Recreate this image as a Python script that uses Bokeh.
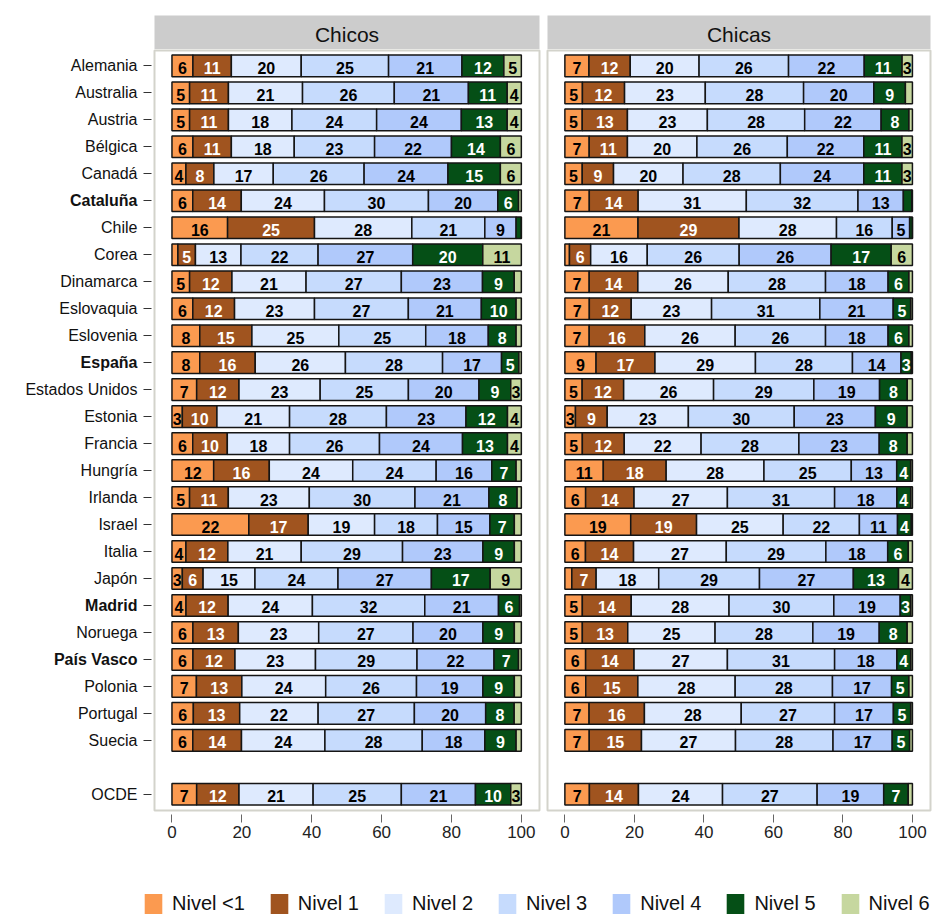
import numpy as np
from bokeh.plotting import figure
from bokeh.models import (ColumnDataSource, Range1d, FixedTicker, Label,
                          Legend, LegendItem)
from bokeh.layouts import column, row
from bokeh.embed import file_html
from bokeh.resources import INLINE
from bokeh.core.properties import value

countries = ["Alemania", "Australia", "Austria", "Bélgica", "Canadá", "Cataluña", "Chile",
             "Corea", "Dinamarca", "Eslovaquia", "Eslovenia", "España", "Estados Unidos",
             "Estonia", "Francia", "Hungría", "Irlanda", "Israel", "Italia", "Japón",
             "Madrid", "Noruega", "País Vasco", "Polonia", "Portugal", "Suecia", "OCDE"]
bold_rows = ["Cataluña", "España", "Madrid", "País Vasco"]
levels = ["Nivel <1", "Nivel 1", "Nivel 2", "Nivel 3", "Nivel 4", "Nivel 5", "Nivel 6"]
panels = ["Chicos", "Chicas"]
x_ticks = [0, 20, 40, 60, 80, 100]

# Chicos (percent of students per level)
chicos_n0 = [6, 5, 5, 6, 4, 6, 16, 1.7, 5, 6, 8, 8, 7, 3, 6, 12, 5, 22, 4, 3, 4, 6, 6, 7, 6, 6, 7]
chicos_n1 = [11, 11, 11, 11, 8, 14, 25, 5, 12, 12, 15, 16, 12, 10, 10, 16, 11, 17, 12, 6, 12, 13, 12, 13, 13, 14, 12]
chicos_n2 = [20, 21, 18, 18, 17, 24, 28, 13, 21, 23, 25, 26, 23, 21, 18, 24, 23, 19, 21, 15, 24, 23, 23, 24, 22, 24, 21]
chicos_n3 = [25, 26, 24, 23, 26, 30, 21, 22, 27, 27, 25, 28, 25, 28, 26, 24, 30, 18, 29, 24, 32, 27, 29, 26, 27, 28, 25]
chicos_n4 = [21, 21, 24, 22, 24, 20, 9, 27, 23, 21, 18, 17, 20, 23, 24, 16, 21, 15, 23, 27, 21, 20, 22, 19, 20, 18, 21]
chicos_n5 = [12, 11, 13, 14, 15, 6, 1.5, 20, 9, 10, 8, 5, 9, 12, 13, 7, 8, 7, 9, 17, 6, 9, 7, 9, 8, 9, 10]
chicos_n6 = [5, 4, 4, 6, 6, 0.8, 0, 11, 2, 1.5, 1.5, 0.7, 3, 4, 4, 1.5, 1.2, 2, 2, 9, 0.5, 2, 0.8, 2, 2, 1.5, 3]

# Chicas
chicas_n0 = [7, 5, 5, 7, 5, 7, 21, 1.3, 7, 7, 7, 9, 5, 3, 5, 11, 6, 19, 6, 2, 5, 5, 6, 6, 7, 7, 7]
chicas_n1 = [12, 12, 13, 11, 9, 14, 29, 6, 14, 12, 16, 17, 12, 9, 12, 18, 14, 19, 14, 7, 14, 13, 14, 15, 16, 15, 14]
chicas_n2 = [20, 23, 23, 20, 20, 31, 28, 16, 26, 23, 26, 29, 26, 23, 22, 28, 27, 25, 27, 18, 28, 25, 27, 28, 28, 27, 24]
chicas_n3 = [26, 28, 28, 26, 28, 32, 16, 26, 28, 31, 26, 28, 29, 30, 28, 25, 31, 22, 29, 29, 30, 28, 31, 28, 27, 28, 27]
chicas_n4 = [22, 20, 22, 22, 24, 13, 5, 26, 18, 21, 18, 14, 19, 23, 23, 13, 18, 11, 18, 27, 19, 19, 18, 17, 17, 17, 19]
chicas_n5 = [11, 9, 8, 11, 11, 2.4, 0.8, 17, 6, 5, 6, 3, 8, 9, 8, 4, 4, 4, 6, 13, 3, 8, 4, 5, 5, 5, 7]
chicas_n6 = [3, 2, 1, 3, 3, 0.2, 0, 6, 1, 0.5, 1, 0.3, 1.5, 1.5, 1.5, 0.5, 0.5, 0.3, 1.2, 4, 0.5, 1.5, 0.5, 1, 0.5, 0.8, 1.2]

colors = ["#FB9A50", "#A0541F", "#DEEAFE", "#C6DBFD", "#B0C9FB", "#054F16", "#C6D79F"]
text_colors = ["black", "white", "black", "black", "black", "white", "black"]

FONT = "Liberation Sans"
n = len(countries)
# OCDE separated from the rest by one empty slot
pos = np.array(list(range(n - 1)) + [n], dtype=float)
X_RANGE = (-5.0, 105.2)
Y_RANGE = (27.6, -0.57)
FRAME_H = 760
TOP = 1
BOTTOM = 40


def strip(title, left_border, right_border, fw):
    s = figure(frame_width=fw, frame_height=34, min_border_left=left_border,
               min_border_right=right_border, min_border_top=15, min_border_bottom=0,
               x_range=Range1d(0, 1), y_range=Range1d(0, 1), x_axis_type=None,
               y_axis_type=None, toolbar_location=None, output_backend="svg",
               background_fill_color="#CCCCCC", outline_line_color=None)
    s.add_layout(Label(x=0.5, y=0.45, text=title, text_align="center",
                       text_baseline="middle", text_font_size="21px", text_font=FONT,
                       text_color="#111111"))
    return s


def panel(data, left_border, right_border, fw, show_y):
    vals = np.array(data, dtype=float).T
    norm = vals / vals.sum(axis=1, keepdims=True) * 100.0
    right = np.cumsum(norm, axis=1)
    left = right - norm
    p = figure(frame_width=fw, frame_height=FRAME_H, min_border_left=left_border,
               min_border_right=right_border, min_border_top=TOP, min_border_bottom=BOTTOM,
               x_range=Range1d(*X_RANGE), y_range=Range1d(*Y_RANGE),
               y_axis_location="left" if show_y else None,
               toolbar_location=None, output_backend="svg",
               outline_line_color="#D3D3CB", outline_line_width=2)
    p.grid.visible = False
    sources = []
    for j in range(len(levels)):
        src = ColumnDataSource(dict(y=pos, left=left[:, j], right=right[:, j]))
        sources.append(src)
        p.hbar(y="y", left="left", right="right", height=0.8, source=src,
               fill_color=colors[j], line_color="#151515", line_width=1.5)
    lx, ly, lt, lc = [], [], [], []
    for i in range(n):
        for j in range(len(levels)):
            if vals[i, j] >= 2.5:
                lx.append((left[i, j] + right[i, j]) / 2)
                ly.append(pos[i])
                lt.append(str(int(round(vals[i, j]))))
                lc.append(text_colors[j])
    tsrc = ColumnDataSource(dict(x=lx, y=ly, t=lt, c=lc))
    p.text(x="x", y="y", text="t", text_color="c", source=tsrc, text_align="center",
           text_baseline="middle", y_offset=2, text_font=value(FONT),
           text_font_style="bold", text_font_size="16px")

    xa = p.xaxis[0]
    xa.ticker = FixedTicker(ticks=x_ticks)
    xa.axis_line_color = None
    xa.major_tick_in = -4
    xa.major_tick_out = 12
    xa.minor_tick_line_color = None
    xa.major_tick_line_color = "#666666"
    xa.major_label_text_font = FONT
    xa.major_label_text_font_size = "17px"
    xa.major_label_text_color = "#222222"
    xa.major_label_standoff = 3

    if show_y:
        ya = p.yaxis[0]
        ya.ticker = FixedTicker(ticks=list(pos))
        ya.major_label_overrides = {float(v): "" for v in pos}
        ya.major_label_standoff = 0
        ya.axis_line_color = None
        ya.major_tick_in = -3
        ya.major_tick_out = 11
        ya.minor_tick_line_color = None
        ya.major_tick_line_color = "#333333"
    return p, sources


def name_column(width):
    f = figure(frame_width=width, frame_height=FRAME_H, min_border_left=0,
               min_border_right=0, min_border_top=TOP, min_border_bottom=BOTTOM,
               x_range=Range1d(0, 1), y_range=Range1d(*Y_RANGE), x_axis_type=None,
               y_axis_type=None, toolbar_location=None, output_backend="svg",
               outline_line_color=None)
    for names, style in [([c for c in countries if c not in bold_rows], "normal"),
                         (bold_rows, "bold")]:
        idx = [countries.index(c) for c in names]
        src = ColumnDataSource(dict(x=[f.x_range.end] * len(idx),
                                    y=[pos[k] for k in idx], name=names))
        f.text(x="x", y="y", text="name", source=src, x_offset=-1,
               text_align="right", text_baseline="middle", text_font=value(FONT),
               text_font_size="16px", text_font_style=style, text_color="#111111")
    return f


chicos = [chicos_n0, chicos_n1, chicos_n2, chicos_n3, chicos_n4, chicos_n5, chicos_n6]
chicas = [chicas_n0, chicas_n1, chicas_n2, chicas_n3, chicas_n4, chicas_n5, chicas_n6]

s1 = strip(panels[0], 154, 4, 385)
s2 = strip(panels[1], 4, 8, 383)
names = name_column(138)
p1, src1 = panel(chicos, 16, 4, 385, True)
p2, src2 = panel(chicas, 4, 8, 383, False)

# Legend strip: its swatches reuse the bar data, kept outside this strip's visible ranges
lf = figure(width=938, height=66, min_border=0, x_axis_type=None, y_axis_type=None,
            x_range=Range1d(-3, -2), y_range=Range1d(-3, -2),
            outline_line_color=None, toolbar_location=None, output_backend="svg")
items = []
for lev, col, src in zip(levels, colors, src1):
    r = lf.hbar(y="y", left="left", right="right", height=0.8, source=src,
                fill_color=col, line_color=None)
    items.append(LegendItem(label=lev, renderers=[r]))
leg = Legend(items=items, orientation="horizontal", location=(142, 0), glyph_width=22,
             glyph_height=25, label_text_font=FONT, label_text_font_size="20px",
             label_standoff=8, spacing=23, border_line_color=None,
             background_fill_alpha=0, padding=0, margin=0, label_text_color="#111111")
lf.add_layout(leg, "center")

layout = column(row(s1, s2), row(names, p1, p2), lf)
open("out.html", "w").write(file_html(layout, INLINE))
